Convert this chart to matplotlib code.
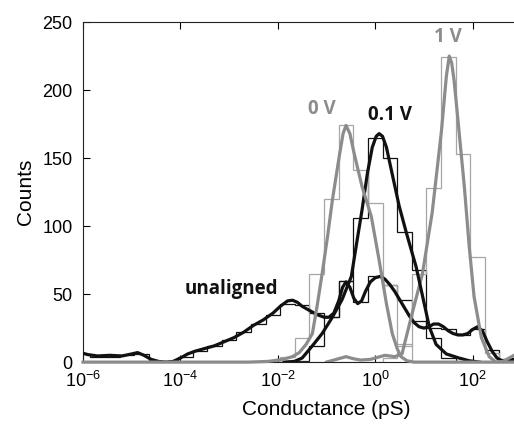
import numpy as np
import matplotlib
matplotlib.use('Agg')
import matplotlib.pyplot as plt

plt.rcParams['font.family'] = ['Liberation Sans', 'DejaVu Sans']
plt.rcParams['mathtext.fontset'] = 'custom'
plt.rcParams['mathtext.rm'] = 'Liberation Sans'
plt.rcParams['mathtext.it'] = 'Liberation Sans:italic'

# histogram bins: log10 edges, factor-of-2 wide
bin_edges_log = np.arange(-6.15, 2.9, 0.3)

# counts per bin (30 bins, centres -6.0 ... 2.7)
hist_unaligned = [6, 4, 4, 5, 6, 1, 0, 4, 8, 12, 16, 22, 28, 35, 43,
                  42, 36, 33, 60, 44, 63, 57, 46, 30, 25, 24, 20, 24, 9, 2]
hist_0v = [0, 0, 0, 0, 0, 0, 0, 0, 0, 0, 0, 0, 0, 0, 4,
           18, 65, 120, 174, 141, 117, 57, 13, 0, 0, 0, 0, 0, 0, 0]
hist_01v = [0, 0, 0, 0, 0, 0, 0, 0, 0, 0, 0, 0, 0, 0, 0,
            1, 12, 33, 60, 106, 165, 150, 96, 68, 18, 3, 0, 0, 0, 0]
hist_1v = [0, 0, 0, 0, 0, 0, 0, 0, 0, 0, 0, 0, 0, 0, 0,
           0, 0, 0, 0, 0, 0, 3, 12, 65, 128, 224, 153, 77, 7, 0]

# smoothed curves (log10 conductance, counts)
unal_x = [-6.0, -5.9, -5.7, -5.45, -5.2, -5.0, -4.88, -4.75, -4.6, -4.45,
          -4.3, -4.15, -4.0, -3.85, -3.7, -3.5, -3.3, -3.1, -2.9, -2.7,
          -2.5, -2.3, -2.1, -1.95, -1.8, -1.7, -1.6, -1.5, -1.35, -1.2,
          -1.05, -0.95, -0.85, -0.75, -0.67, -0.6, -0.52, -0.44, -0.36, -0.28,
          -0.2, -0.1, 0.0, 0.1, 0.2, 0.3, 0.4, 0.5, 0.6, 0.7,
          0.8, 0.9, 1.0, 1.1, 1.2, 1.3, 1.4, 1.5, 1.6, 1.7,
          1.8, 1.9, 2.0, 2.1, 2.2, 2.3, 2.4, 2.5, 2.6, 2.7, 2.85]
unal_y = [6.5, 5.5, 4.5, 5, 4.5, 6, 7, 5, 2, 0.5,
          0, 0.5, 3, 6, 8, 10, 12, 15, 18, 22,
          27, 31, 36, 41, 45, 45.5, 44, 41, 38, 35,
          33, 33, 36, 45, 55, 59, 55, 47, 43, 45,
          52, 59, 62, 63, 61, 57, 52, 46, 40, 34,
          29, 26, 25, 26, 28, 28, 26, 23, 21, 20,
          20, 21, 24, 26, 23, 15, 8, 3, 1, 1, 2]

v0_x = [-6.0, -2.6, -2.2, -1.9, -1.7, -1.56, -1.42, -1.29, -1.19, -1.09,
        -0.98, -0.88, -0.74, -0.66, -0.6, -0.52, -0.43, -0.27, -0.08, 0.08,
        0.23, 0.35, 0.45, 0.53, 0.65, 0.8, 3.0]
v0_y = [0, 0, 0.5, 2, 4, 7, 13, 21, 42, 65,
        92, 119, 151, 168, 174, 168, 153, 129, 107, 75,
        43, 21, 10, 4, 1, 0, 0]

v01_x = [-1.87, -1.66, -1.5, -1.29, -1.09, -0.88, -0.68, -0.49, -0.37, -0.27,
         -0.16, -0.06, 0.02, 0.08, 0.15, 0.23, 0.29, 0.49, 0.64, 0.84,
         1.0, 1.11, 1.25, 1.46, 1.72, 1.93, 2.14]
v01_y = [0, 0.5, 3, 12, 21, 33, 46, 63, 90, 112,
         139, 158, 166, 168, 166, 158, 148, 115, 95, 70,
         44, 26, 13, 6, 3, 1, 0]

v1_x = [-1.0, -0.8, -0.6, -0.45, -0.3, -0.1, 0.0, 0.2, 0.4, 0.55,
        0.76, 0.97, 1.17, 1.36, 1.46, 1.52, 1.57, 1.62, 1.72, 1.83,
        1.93, 2.03, 2.18, 2.34, 2.48, 2.62, 2.75, 2.85]
v1_y = [0, 2, 4, 2.5, 1.5, 2, 3, 5, 4, 6,
        36, 65, 110, 170, 210, 225, 220, 207, 170, 129,
        85, 48, 18, 4, 0, 0.5, 3, 5]

labels = ['unaligned', '0 V', '0.1 V', '1 V']

GREY = '#8c8c8c'
GREY_H = '#a6a6a6'
BLACK = '#111111'

fig = plt.figure(figsize=(5.14, 4.25), dpi=100)
# axes run past the right edge of the picture (figure is cropped there)
ax = fig.add_axes([0.1615, 0.148, 0.9475, 0.8])

edges = 10 ** bin_edges_log
ax.stairs(hist_unaligned, edges, color=BLACK, lw=0.9, zorder=2)
ax.stairs(hist_01v, edges, color=BLACK, lw=0.9, zorder=2)
ax.stairs(hist_0v, edges, color=GREY_H, lw=0.9, zorder=3)
ax.stairs(hist_1v, edges, color=GREY_H, lw=0.9, zorder=3)

ax.plot(10 ** np.array(unal_x), unal_y, color=BLACK, lw=2.3, zorder=4)
ax.plot(10 ** np.array(v1_x), v1_y, color=GREY, lw=2.3, zorder=5)
ax.plot(10 ** np.array(v01_x), v01_y, color=BLACK, lw=2.3, zorder=6)
ax.plot(10 ** np.array(v0_x), v0_y, color=GREY, lw=2.3, zorder=7,
        clip_on=False)

tfont = dict(family=['Open Sans', 'DejaVu Sans'], fontweight='bold',
             fontsize=13.5, ha='center', va='center')
ax.text(10 ** -2.96, 54, labels[0], color=BLACK, **tfont)
ax.text(10 ** -1.09, 186, labels[1], color=GREY, **tfont)
ax.text(10 ** 0.31, 182, labels[2], color=BLACK, **tfont)
ax.text(10 ** 1.5, 239, labels[3], color=GREY, **tfont)

ax.set_xscale('log')
ax.set_xlim(1e-6, 1e4)
ax.set_ylim(0, 250)
ax.set_xticks([1e-6, 1e-4, 1e-2, 1e0, 1e2])
ax.xaxis.set_minor_locator(matplotlib.ticker.NullLocator())
ax.set_yticks([0, 50, 100, 150, 200, 250])
ax.tick_params(direction='in', top=True, length=5, width=0.8,
               labelsize=13)
ax.tick_params(axis='x', pad=6.5)
ax.tick_params(axis='y', pad=7.5)
for s in ax.spines.values():
    s.set_linewidth(0.8)
    s.set_color('#222222')

ax.set_xlabel('Conductance (pS)', fontsize=15, labelpad=6)
ax.set_ylabel('Counts', fontsize=15, labelpad=5)

fig.savefig('out.png', dpi=100)
